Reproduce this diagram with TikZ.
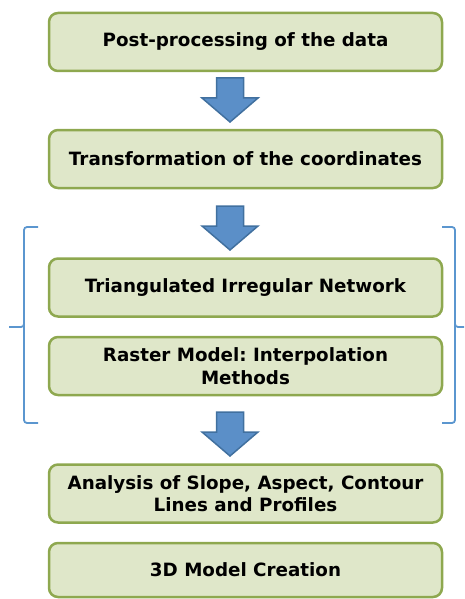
\documentclass[tikz,border=0pt]{standalone}
\usepackage{fontspec}
\setmainfont{DejaVu Sans}
\usetikzlibrary{positioning}
\usetikzlibrary{calc}
\definecolor{boxFill}{HTML}{DFE7C9}
\definecolor{boxLine}{HTML}{8EA84F}
\definecolor{arrowFill}{HTML}{5B8FC8}
\definecolor{arrowLine}{HTML}{41709F}
\definecolor{braceLine}{HTML}{5B96CF}
% block arrow pointing down, #1 = top centre of the shaft
\newcommand{\flowdown}[1]{%
  \draw[flow] ($(#1)+(-13.5,0)$) -- ++(27,0) -- ++(0,20) -- ++(14.5,0)
    -- ++(-28,24) -- ++(-28,-24) -- ++(14.5,0) -- cycle;}

\begin{document}
\frenchspacing
\begin{tikzpicture}[x=1pt,y=-1pt,
    procbox/.style={draw=boxLine, fill=boxFill, line width=2.5pt,
      rounded corners=9pt, minimum width=393pt, minimum height=58pt,
      align=center, inner sep=2pt,
      font=\bfseries\fontsize{18.3}{22.5}\selectfont},
    flow/.style={fill=arrowFill, draw=arrowLine, line width=1.5pt},
    brace/.style={draw=braceLine, line width=1.8pt, rounded corners=3pt}]
  \useasboundingbox (0,0) rectangle (464,599);

  % boxes
  \node[procbox] (post) at (245.5,42) {Post-processing of the data};
  \node[procbox] (trans) at (245.5,159) {Transformation of the coordinates};
  \node[procbox] (tin) at (245.5,287.5) {Triangulated Irregular Network};
  \node[procbox] (raster) at (245.5,366) {Raster Model: Interpolation\\Methods};
  \node[procbox] (analysis) at (245.5,493.5) {Analysis of Slope, Aspect, Contour\\Lines and Profiles};
  \node[procbox, minimum height=54pt] (model) at (245.5,570) {3D Model Creation};

  % arrows
  \coordinate (a1) at (230,78);
  \coordinate (a2) at (230,206);
  \coordinate (a3) at (230,412);
  \flowdown{a1}
  \flowdown{a2}
  \flowdown{a3}

  % braces round the two models
  \draw[brace] (38,227) -- (24,227) -- (24,327) -- (9,327);
  \draw[brace] (24,320) -- (24,423) -- (38,423);
  \draw[brace] (442,227) -- (455,227) -- (455,327) -- (464,327);
  \draw[brace] (455,320) -- (455,423) -- (442,423);
\end{tikzpicture}
\end{document}
